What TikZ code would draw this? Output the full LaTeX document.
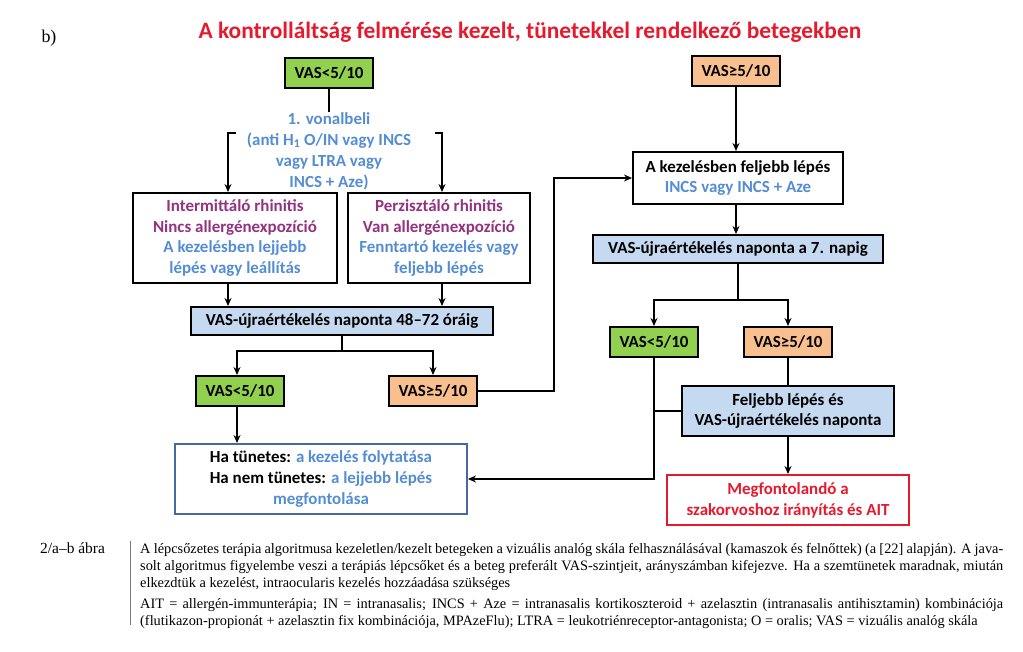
\documentclass[tikz,border=0pt]{standalone}
\usepackage{fontspec}
\setmainfont{Carlito}
\newfontfamily\capfont{Liberation Serif}
\usetikzlibrary{arrows.meta,positioning}
\definecolor{vasgreen}{RGB}{146,208,80}
\definecolor{vasorange}{RGB}{250,191,143}
\definecolor{evalblue}{RGB}{197,217,241}
\definecolor{txtblue}{RGB}{84,141,212}
\definecolor{txtpurple}{RGB}{146,50,128}
\definecolor{alertred}{RGB}{230,25,45}
\definecolor{edgeblue}{RGB}{70,105,165}
\definecolor{rulegray}{RGB}{120,120,120}
\newcommand{\capline}[1]{\makebox[863bp][s]{#1}}
\begin{document}
\begin{tikzpicture}[x=1bp,y=-1bp,
		every node/.style={font=\fontsize{17}{21}\selectfont\bfseries,align=center,inner sep=0pt},
		box/.style={draw,line width=2bp,fill=white},
		lo/.style={box,fill=vasgreen,minimum width=88bp,minimum height=30bp},
		hi/.style={box,fill=vasorange,minimum width=88bp,minimum height=30bp},
		evalbar/.style={box,fill=evalblue,minimum height=28bp},
		note/.style={font=\capfont\fontsize{14.4}{16}\selectfont,anchor=base west},
		link/.style={line width=2bp,-{Stealth[length=8bp,width=7bp]}},
		wire/.style={line width=2bp}]
\useasboundingbox (0,0) rectangle (1023,652);
\node[font=\fontsize{23.5}{28}\selectfont\bfseries,text=alertred] (title) at (530,32) {A kontrolláltság felmérése kezelt, tünetekkel rendelkező betegekben};
\node[font=\capfont\fontsize{18}{20}\selectfont] (part) at (49,38) {b)};
\node[lo] (lotop) at (329,73) {VAS<5/10};
\node[text=txtblue] (firstline) at (329,151) {1. vonalbeli\\(anti H\textsubscript{1} O/IN vagy INCS\\vagy LTRA vagy\\INCS + Aze)};
\node[box,minimum width=204bp,minimum height=90bp] (inter) at (235,238) {\textcolor{txtpurple}{Intermittáló rhinitis}\\\textcolor{txtpurple}{Nincs allergénexpozíció}\\\textcolor{txtblue}{A kezelésben lejjebb}\\\textcolor{txtblue}{lépés vagy leállítás}};
\node[box,minimum width=182bp,minimum height=90bp] (perz) at (439,238) {\textcolor{txtpurple}{Perzisztáló rhinitis}\\\textcolor{txtpurple}{Van allergénexpozíció}\\\textcolor{txtblue}{Fenntartó kezelés vagy}\\\textcolor{txtblue}{feljebb lépés}};
\node[evalbar,minimum width=302bp] (evalA) at (342,321) {VAS-újraértékelés naponta 48–72 óráig};
\node[lo] (loA) at (240,391) {VAS<5/10};
\node[hi] (hiA) at (433,391) {VAS≥5/10};
\node[box,draw=edgeblue,minimum width=292bp,minimum height=70bp] (keep) at (321,479) {Ha tünetes: \textcolor{txtblue}{a kezelés folytatása}\\Ha nem tünetes: \textcolor{txtblue}{a lejjebb lépés}\\\textcolor{txtblue}{megfontolása}};
\node[hi] (hitop) at (736,71) {VAS≥5/10};
\node[box,minimum width=210bp,minimum height=52bp] (stepup) at (738,178) {A kezelésben feljebb lépés\\\textcolor{txtblue}{INCS vagy INCS + Aze}};
\node[evalbar,minimum width=290bp] (evalB) at (738,249) {VAS-újraértékelés naponta a 7. napig};
\node[lo] (loB) at (654,342) {VAS<5/10};
\node[hi] (hiB) at (788,342) {VAS≥5/10};
\node[evalbar,minimum width=212bp,minimum height=50bp] (further) at (788,411) {Feljebb lépés és\\VAS-újraértékelés naponta};
\node[box,draw=alertred,text=alertred,minimum width=242bp,minimum height=50bp] (refer) at (788,500) {Megfontolandó a\\szakorvoshoz irányítás és AIT};
\coordinate (splitL) at (236,133);
\coordinate (splitR) at (435,133);
\draw[wire] (lotop.south) -- ++(0,23);
\draw[link] (splitL) -| ([xshift=-7bp]inter.north);
\draw[link] (splitR) -| ([xshift=3bp]perz.north);
\draw[link] ([xshift=-7bp]inter.south) -- ([xshift=-7bp]inter.south |- evalA.north);
\draw[link] ([xshift=3bp]perz.south) -- ([xshift=3bp]perz.south |- evalA.north);
\draw[link] (evalA.south) -- ++(0,15) -| ([xshift=-3bp]loA.north);
\draw[link] (evalA.south) ++(0,15) -| (hiA.north);
\draw[link] ([xshift=-3bp]loA.south) -- ([xshift=-3bp]loA.south |- keep.north);
\draw[link] (hiA.east) -- ++(76,0) |- (stepup.west);
\draw[link] (hitop.south) -- (hitop.south |- stepup.north);
\draw[link] ([xshift=-2bp]stepup.south) -- ([xshift=-2bp]stepup.south |- evalB.north);
\draw[link] (evalB.south) -- ++(0,36) -| (loB.north);
\draw[link] (evalB.south) ++(0,36) -| (hiB.north);
\draw[wire] (hiB.south) -- (hiB.south |- further.north);
\draw[link] (loB.south) |- (keep.east);
\draw[wire] (further.west) -- (further.west -| loB.south);
\draw[link] (further.south) -- (refer.north);
\draw[rulegray,line width=1bp] (130.5,541) -- (130.5,625);
\node[note,font=\capfont\fontsize{15.5}{16}\selectfont] (figlabel) at (40,553) {2/a–b ábra};
\node[note] (capA) at (140,553) {\capline{A lépcsőzetes terápia algoritmusa kezeletlen/kezelt betegeken a vizuális analóg skála felhasználásával (kamaszok és felnőttek) (a [22] alapján). A java-}};
\node[note] (capB) at (140,570) {\capline{solt algoritmus figyelembe veszi a terápiás lépcsőket és a beteg preferált VAS-szintjeit, arányszámban kifejezve. Ha a szemtünetek maradnak, miután}};
\node[note] (capC) at (140,587) {elkezdtük a kezelést, intraocularis kezelés hozzáadása szükséges};
\node[note] (capD) at (140,608) {\capline{AIT = allergén-immunterápia; IN = intranasalis; INCS + Aze = intranasalis kortikoszteroid + azelasztin (intranasalis antihisztamin) kombinációja}};
\node[note] (capE) at (140,625) {(flutikazon-propionát + azelasztin fix kombinációja, MPAzeFlu); LTRA = leukotriénreceptor-antagonista; O = oralis; VAS = vizuális analóg skála};
\end{tikzpicture}
\end{document}
